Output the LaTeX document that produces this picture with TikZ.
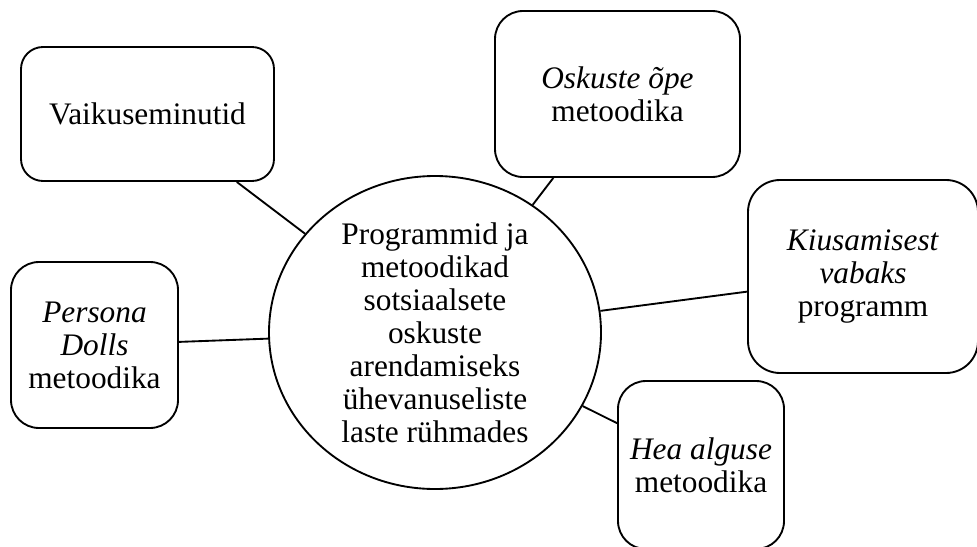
\documentclass[tikz,border=0pt]{standalone}
\usepackage{fontspec}
\setmainfont{Liberation Serif}
\usetikzlibrary{shapes.geometric}
\begin{document}
\begin{tikzpicture}[x=0.75pt,y=-0.75pt,
  every node/.style={font=\fontsize{23.5pt}{24.75pt}\selectfont, align=center, inner sep=0pt},
  boxnode/.style={draw, line width=1.4pt, rectangle},
  hub/.style={draw, line width=1.4pt, ellipse},
  link/.style={line width=1.4pt}]
\useasboundingbox (0,0) rectangle (977,546);
\clip (0,0) rectangle (977,546);
\node[hub, minimum width=249pt, minimum height=234.75pt] (E) at (435,332.5)
  {Programmid ja\\metoodikad\\sotsiaalsete\\oskuste\\arendamiseks\\ühevanuseliste\\laste rühmades};
\node[boxnode, rounded corners=16.5pt, minimum width=189.75pt, minimum height=100.5pt] (V) at (147.5,114) {Vaikuseminutid};
\node[boxnode, rounded corners=21pt, minimum width=183.75pt, minimum height=124.5pt] (O) at (617.5,94) {\textit{Oskuste õpe}\\metoodika};
\node[boxnode, rounded corners=24pt, minimum width=172.5pt, minimum height=144.75pt] (K) at (863,276.5) {\textit{Kiusamisest}\\\textit{vabaks}\\programm};
\node[boxnode, rounded corners=21pt, minimum width=125.25pt, minimum height=124.5pt] (P) at (94.5,345) {\textit{Persona}\\\textit{Dolls}\\metoodika};
\node[boxnode, rounded corners=21pt, minimum width=124.5pt, minimum height=126pt] (H) at (701,465) {\textit{Hea alguse}\\metoodika};
\draw[link] (V) -- (E);
\draw[link] (O) -- (E);
\draw[link] (K) -- (E);
\draw[link] (P) -- (E);
\draw[link] (H) -- (E);
\end{tikzpicture}
\end{document}
